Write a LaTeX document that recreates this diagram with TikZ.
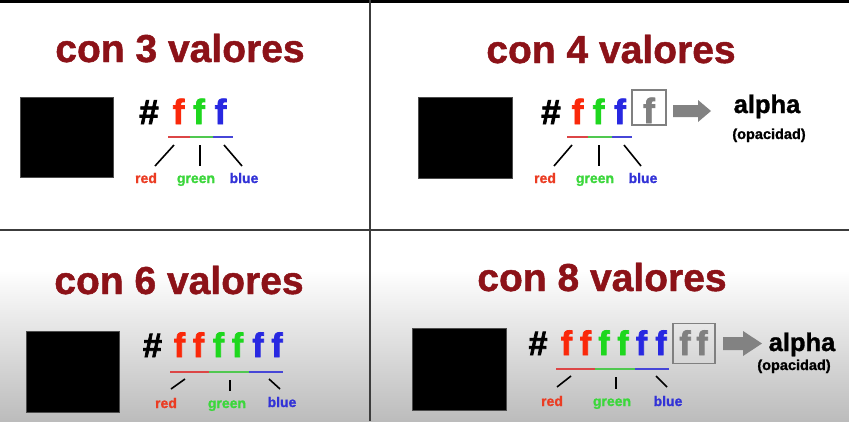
\documentclass[tikz,border=0pt]{standalone}
\usepackage{fontspec}
\setmainfont{Liberation Sans}
\newfontfamily\heavyfont[BoldFeatures={FakeBold=2.2}]{Liberation Sans}
\newfontfamily\semifont[BoldFeatures={FakeBold=1.2}]{Liberation Sans}
\definecolor{titlered}{RGB}{140,18,24}
\definecolor{fred}{RGB}{250,40,10}
\definecolor{fgreen}{RGB}{30,215,30}
\definecolor{fblue}{RGB}{40,40,225}
\definecolor{lred}{RGB}{235,60,35}
\definecolor{lgreen}{RGB}{60,215,60}
\definecolor{lblue}{RGB}{50,50,215}
\definecolor{ured}{RGB}{220,70,70}
\definecolor{ugreen}{RGB}{80,200,80}
\definecolor{ublue}{RGB}{70,70,215}
\definecolor{fgray}{RGB}{128,128,128}
\definecolor{agray}{RGB}{130,130,130}
\definecolor{bggray}{RGB}{188,188,188}
\definecolor{divcol}{RGB}{60,60,60}
\begin{document}
\begin{tikzpicture}[x=1pt,y=-1pt,
  every node/.style={inner sep=0pt,outer sep=0pt},
  title/.style={font=\semifont\bfseries\fontsize{39}{40}\selectfont,text=titlered,anchor=base},
  code/.style={font=\heavyfont\bfseries\fontsize{35}{36}\selectfont,anchor=base},
  codesm/.style={font=\heavyfont\bfseries\fontsize{34}{35}\selectfont,anchor=base},
  lab/.style={font=\semifont\bfseries\fontsize{14}{15}\selectfont,anchor=base},
  alphatxt/.style={font=\semifont\bfseries\fontsize{25.5}{26}\selectfont,anchor=base},
  opatxt/.style={font=\semifont\bfseries\fontsize{14.5}{15}\selectfont,anchor=base},
  sq/.style={fill=black,draw=black!70,line width=0.8pt},
  gbox/.style={draw=fgray,line width=1.6pt},
  uline/.style={line width=2pt},
  tick/.style={line width=1.6pt,black},
  divider/.style={line width=2.5pt,divcol}]
\useasboundingbox (0,0) rectangle (849,421);
\fill[white] (0,0) rectangle (849,270);
\shade[top color=white,bottom color=bggray] (0,270) rectangle (849,421);
\fill[black] (0,0) rectangle (849,2.5);
\draw[divider] (0,230) -- (849,230);
\draw[divider] (370,0) -- (370,421);

% ---------- panel 1 ----------
\node[title] (t1) at (180,62) {con 3 valores};
\node[sq,minimum width=93pt,minimum height=80pt] (s1) at (66.5,137) {};
\node[code] (h1) at (149,124) {\#};
\node[code,text=fred] (r1) at (178.5,124) {f};
\node[code,text=fgreen] (g1) at (199,124) {f};
\node[code,text=fblue] (b1) at (220.5,124) {f};
\coordinate (u1a) at (168,137); \coordinate (u1b) at (190,137);
\coordinate (u1c) at (213,137); \coordinate (u1d) at (233,137);
\draw[uline,ured] (u1a) -- (u1b);
\draw[uline,ugreen] (u1b) -- (u1c);
\draw[uline,ublue] (u1c) -- (u1d);
\coordinate (k1a) at (174,145); \coordinate (k1b) at (155,166);
\coordinate (k1c) at (200,145); \coordinate (k1d) at (200,166);
\coordinate (k1e) at (224,145); \coordinate (k1f) at (242,166);
\draw[tick] (k1a) -- (k1b);
\draw[tick] (k1c) -- (k1d);
\draw[tick] (k1e) -- (k1f);
\node[lab,text=lred] (lr1) at (146,183) {red};
\node[lab,text=lgreen] (lg1) at (196,183) {green};
\node[lab,text=lblue] (lb1) at (244,183) {blue};

% ---------- panel 2 ----------
\node[title] (t2) at (611,63) {con 4 valores};
\node[sq,minimum width=94pt,minimum height=81pt] (s2) at (465,137.5) {};
\node[code] (h2) at (551,124) {\#};
\node[code,text=fred] (r2) at (577.5,124) {f};
\node[code,text=fgreen] (g2) at (598.5,124) {f};
\node[code,text=fblue] (b2) at (620,124) {f};
\node[gbox,minimum width=34pt,minimum height=35pt] (x2) at (649,107.5) {};
\node[code,text=fgray] (a2) at (649,123) {f};
\coordinate (u2a) at (567,137); \coordinate (u2b) at (588,137);
\coordinate (u2c) at (612,137); \coordinate (u2d) at (632,137);
\draw[uline,ured] (u2a) -- (u2b);
\draw[uline,ugreen] (u2b) -- (u2c);
\draw[uline,ublue] (u2c) -- (u2d);
\coordinate (k2a) at (572,145); \coordinate (k2b) at (554,166);
\coordinate (k2c) at (599,145); \coordinate (k2d) at (599,166);
\coordinate (k2e) at (624,145); \coordinate (k2f) at (641,166);
\draw[tick] (k2a) -- (k2b);
\draw[tick] (k2c) -- (k2d);
\draw[tick] (k2e) -- (k2f);
\node[lab,text=lred] (lr2) at (545,183) {red};
\node[lab,text=lgreen] (lg2) at (595,183) {green};
\node[lab,text=lblue] (lb2) at (643,183) {blue};
\fill[agray] (673,105) -- (698,105) -- (698,100) -- (711,111) -- (698,122) -- (698,117) -- (673,117) -- cycle;
\node[alphatxt] (al2) at (767,113) {alpha};
\node[opatxt] (op2) at (769,139) {(opacidad)};

% ---------- panel 3 ----------
\node[title] (t3) at (179,294) {con 6 valores};
\node[sq,minimum width=93pt,minimum height=81pt] (s3) at (72.5,371.5) {};
\node[codesm] (h3) at (152.5,357) {\#};
\node[codesm,text=fred] (r3a) at (179.5,357) {f};
\node[codesm,text=fred] (r3b) at (198.5,357) {f};
\node[codesm,text=fgreen] (g3a) at (218.5,357) {f};
\node[codesm,text=fgreen] (g3b) at (237.5,357) {f};
\node[codesm,text=fblue] (b3a) at (258,357) {f};
\node[codesm,text=fblue] (b3b) at (277,357) {f};
\coordinate (u3a) at (170,372); \coordinate (u3b) at (209,372);
\coordinate (u3c) at (249,372); \coordinate (u3d) at (283,372);
\draw[uline,ured] (u3a) -- (u3b);
\draw[uline,ugreen] (u3b) -- (u3c);
\draw[uline,ublue] (u3c) -- (u3d);
\coordinate (k3a) at (185,379); \coordinate (k3b) at (171,389);
\coordinate (k3c) at (230,380); \coordinate (k3d) at (230,391);
\coordinate (k3e) at (269,379); \coordinate (k3f) at (280,389);
\draw[tick] (k3a) -- (k3b);
\draw[tick] (k3c) -- (k3d);
\draw[tick] (k3e) -- (k3f);
\node[lab,text=lred] (lr3) at (166,408) {red};
\node[lab,text=lgreen] (lg3) at (227,408) {green};
\node[lab,text=lblue] (lb3) at (282,407) {blue};

% ---------- panel 4 ----------
\node[title] (t4) at (602,291) {con 8 valores};
\node[sq,minimum width=94pt,minimum height=82pt] (s4) at (459,369) {};
\node[codesm] (h4) at (538,355) {\#};
\node[codesm,text=fred] (r4a) at (566.5,355) {f};
\node[codesm,text=fred] (r4b) at (585.5,355) {f};
\node[codesm,text=fgreen] (g4a) at (604,355) {f};
\node[codesm,text=fgreen] (g4b) at (623,355) {f};
\node[codesm,text=fblue] (b4a) at (641.5,355) {f};
\node[codesm,text=fblue] (b4b) at (661,355) {f};
\node[gbox,minimum width=42pt,minimum height=40pt] (x4) at (694,343.5) {};
\node[codesm,text=fgray] (a4a) at (685,355) {f};
\node[codesm,text=fgray] (a4b) at (702,355) {f};
\coordinate (u4a) at (556,369); \coordinate (u4b) at (595,369);
\coordinate (u4c) at (635,369); \coordinate (u4d) at (669,369);
\draw[uline,ured] (u4a) -- (u4b);
\draw[uline,ugreen] (u4b) -- (u4c);
\draw[uline,ublue] (u4c) -- (u4d);
\coordinate (k4a) at (571,376); \coordinate (k4b) at (557,387);
\coordinate (k4c) at (616,377); \coordinate (k4d) at (616,389);
\coordinate (k4e) at (656,376); \coordinate (k4f) at (667,387);
\draw[tick] (k4a) -- (k4b);
\draw[tick] (k4c) -- (k4d);
\draw[tick] (k4e) -- (k4f);
\node[lab,text=lred] (lr4) at (552,406) {red};
\node[lab,text=lgreen] (lg4) at (612,406) {green};
\node[lab,text=lblue] (lb4) at (668,406) {blue};
\fill[agray] (723,337) -- (743,337) -- (743,331) -- (762,343.5) -- (743,356) -- (743,350) -- (723,350) -- cycle;
\node[alphatxt] (al4) at (802,351) {alpha};
\node[opatxt] (op4) at (794,370) {(opacidad)};
\end{tikzpicture}
\end{document}
